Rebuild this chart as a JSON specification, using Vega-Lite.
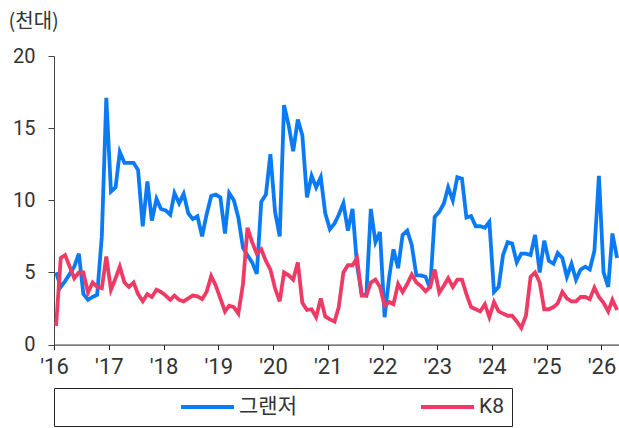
{
  "$schema": "https://vega.github.io/schema/vega-lite/v6.json",
  "width": 565,
  "height": 288.6,
  "autosize": {"type": "none"},
  "padding": {"left": 54, "top": 56, "right": 0, "bottom": 83.4},
  "background": "white",
  "config": {"view": {"stroke": null}},
  "data": {"values": [
    {"d":"2016-01-15","그랜저":5.0,"K8":1.3},{"d":"2016-02-15","그랜저":4.0,"K8":6.0},{"d":"2016-03-15","그랜저":4.4,"K8":6.2},{"d":"2016-04-15","그랜저":4.9,"K8":5.4},{"d":"2016-05-15","그랜저":5.4,"K8":4.6},{"d":"2016-06-15","그랜저":6.3,"K8":5.0},{"d":"2016-07-15","그랜저":3.5,"K8":5.0},{"d":"2016-08-15","그랜저":3.1,"K8":3.6},{"d":"2016-09-15","그랜저":3.3,"K8":4.3},{"d":"2016-10-15","그랜저":3.45,"K8":4.0},{"d":"2016-11-15","그랜저":7.5,"K8":3.9},{"d":"2016-12-15","그랜저":17.1,"K8":6.1},
    {"d":"2017-01-15","그랜저":10.6,"K8":3.8},{"d":"2017-02-15","그랜저":10.9,"K8":4.6},{"d":"2017-03-15","그랜저":13.35,"K8":5.4},{"d":"2017-04-15","그랜저":12.6,"K8":4.3},{"d":"2017-05-15","그랜저":12.6,"K8":4.0},{"d":"2017-06-15","그랜저":12.6,"K8":4.3},{"d":"2017-07-15","그랜저":12.1,"K8":3.5},{"d":"2017-08-15","그랜저":8.2,"K8":3.0},{"d":"2017-09-15","그랜저":11.3,"K8":3.5},{"d":"2017-10-15","그랜저":8.6,"K8":3.3},{"d":"2017-11-15","그랜저":10.1,"K8":3.8},{"d":"2017-12-15","그랜저":9.4,"K8":3.65},
    {"d":"2018-01-15","그랜저":9.3,"K8":3.4},{"d":"2018-02-15","그랜저":9.0,"K8":3.1},{"d":"2018-03-15","그랜저":10.5,"K8":3.4},{"d":"2018-04-15","그랜저":9.8,"K8":3.1},{"d":"2018-05-15","그랜저":10.45,"K8":3.0},{"d":"2018-06-15","그랜저":9.1,"K8":3.2},{"d":"2018-07-15","그랜저":8.7,"K8":3.4},{"d":"2018-08-15","그랜저":8.9,"K8":3.35},{"d":"2018-09-15","그랜저":7.5,"K8":3.15},{"d":"2018-10-15","그랜저":9.0,"K8":3.65},{"d":"2018-11-15","그랜저":10.3,"K8":4.75},{"d":"2018-12-15","그랜저":10.4,"K8":4.1},
    {"d":"2019-01-15","그랜저":10.2,"K8":3.2},{"d":"2019-02-15","그랜저":7.7,"K8":2.3},{"d":"2019-03-15","그랜저":10.5,"K8":2.7},{"d":"2019-04-15","그랜저":10.0,"K8":2.6},{"d":"2019-05-15","그랜저":8.8,"K8":2.15},{"d":"2019-06-15","그랜저":6.7,"K8":4.2},{"d":"2019-07-15","그랜저":6.2,"K8":8.1},{"d":"2019-08-15","그랜저":5.7,"K8":7.1},{"d":"2019-09-15","그랜저":4.9,"K8":6.3},{"d":"2019-10-15","그랜저":9.9,"K8":6.6},{"d":"2019-11-15","그랜저":10.4,"K8":5.8},{"d":"2019-12-15","그랜저":13.2,"K8":5.2},
    {"d":"2020-01-15","그랜저":9.2,"K8":3.9},{"d":"2020-02-15","그랜저":7.5,"K8":3.0},{"d":"2020-03-15","그랜저":16.6,"K8":5.0},{"d":"2020-04-15","그랜저":15.2,"K8":4.8},{"d":"2020-05-15","그랜저":13.4,"K8":4.5},{"d":"2020-06-15","그랜저":15.6,"K8":5.7},{"d":"2020-07-15","그랜저":14.5,"K8":2.9},{"d":"2020-08-15","그랜저":10.2,"K8":2.4},{"d":"2020-09-15","그랜저":11.7,"K8":2.45},{"d":"2020-10-15","그랜저":10.9,"K8":1.9},{"d":"2020-11-15","그랜저":11.6,"K8":3.2},{"d":"2020-12-15","그랜저":9.1,"K8":1.95},
    {"d":"2021-01-15","그랜저":8.0,"K8":1.75},{"d":"2021-02-15","그랜저":8.4,"K8":1.6},{"d":"2021-03-15","그랜저":9.0,"K8":2.6},{"d":"2021-04-15","그랜저":9.8,"K8":5.0},{"d":"2021-05-15","그랜저":7.9,"K8":5.5},{"d":"2021-06-15","그랜저":9.4,"K8":5.5},{"d":"2021-07-15","그랜저":5.5,"K8":6.0},{"d":"2021-08-15","그랜저":3.5,"K8":3.4},{"d":"2021-09-15","그랜저":3.4,"K8":3.4},{"d":"2021-10-15","그랜저":9.4,"K8":4.3},{"d":"2021-11-15","그랜저":7.1,"K8":4.5},{"d":"2021-12-15","그랜저":7.8,"K8":4.0},
    {"d":"2022-01-15","그랜저":1.9,"K8":2.7},{"d":"2022-02-15","그랜저":4.7,"K8":2.95},{"d":"2022-03-15","그랜저":6.6,"K8":2.8},{"d":"2022-04-15","그랜저":5.3,"K8":4.2},{"d":"2022-05-15","그랜저":7.6,"K8":3.65},{"d":"2022-06-15","그랜저":7.9,"K8":4.2},{"d":"2022-07-15","그랜저":6.9,"K8":4.85},{"d":"2022-08-15","그랜저":4.8,"K8":4.3},{"d":"2022-09-15","그랜저":4.8,"K8":4.05},{"d":"2022-10-15","그랜저":4.7,"K8":3.7},{"d":"2022-11-15","그랜저":3.9,"K8":4.0},{"d":"2022-12-15","그랜저":8.85,"K8":5.2},
    {"d":"2023-01-15","그랜저":9.2,"K8":3.6},{"d":"2023-02-15","그랜저":9.8,"K8":4.1},{"d":"2023-03-15","그랜저":10.9,"K8":4.6},{"d":"2023-04-15","그랜저":10.0,"K8":4.0},{"d":"2023-05-15","그랜저":11.6,"K8":4.5},{"d":"2023-06-15","그랜저":11.5,"K8":4.5},{"d":"2023-07-15","그랜저":8.8,"K8":3.5},{"d":"2023-08-15","그랜저":8.9,"K8":2.6},{"d":"2023-09-15","그랜저":8.2,"K8":2.45},{"d":"2023-10-15","그랜저":8.2,"K8":2.3},{"d":"2023-11-15","그랜저":8.1,"K8":2.8},{"d":"2023-12-15","그랜저":8.5,"K8":1.9},
    {"d":"2024-01-15","그랜저":3.65,"K8":2.95},{"d":"2024-02-15","그랜저":4.0,"K8":2.3},{"d":"2024-03-15","그랜저":6.2,"K8":2.15},{"d":"2024-04-15","그랜저":7.1,"K8":2.0},{"d":"2024-05-15","그랜저":7.0,"K8":2.0},{"d":"2024-06-15","그랜저":5.7,"K8":1.6},{"d":"2024-07-15","그랜저":6.3,"K8":1.15},{"d":"2024-08-15","그랜저":6.3,"K8":2.0},{"d":"2024-09-15","그랜저":6.2,"K8":4.7},{"d":"2024-10-15","그랜저":7.6,"K8":5.0},{"d":"2024-11-15","그랜저":5.0,"K8":4.3},{"d":"2024-12-15","그랜저":7.2,"K8":2.45},
    {"d":"2025-01-15","그랜저":5.8,"K8":2.45},{"d":"2025-02-15","그랜저":5.6,"K8":2.6},{"d":"2025-03-15","그랜저":6.35,"K8":2.85},{"d":"2025-04-15","그랜저":6.0,"K8":3.65},{"d":"2025-05-15","그랜저":4.7,"K8":3.2},{"d":"2025-06-15","그랜저":5.6,"K8":3.0},{"d":"2025-07-15","그랜저":4.5,"K8":3.0},{"d":"2025-08-15","그랜저":5.2,"K8":3.3},{"d":"2025-09-15","그랜저":5.4,"K8":3.3},{"d":"2025-10-15","그랜저":5.2,"K8":3.15},{"d":"2025-11-15","그랜저":6.5,"K8":3.95},{"d":"2025-12-15","그랜저":11.7,"K8":3.3},
    {"d":"2026-01-15","그랜저":5.0,"K8":2.9},{"d":"2026-02-15","그랜저":4.0,"K8":2.3},{"d":"2026-03-15","그랜저":7.7,"K8":3.1},{"d":"2026-04-15","그랜저":6.0,"K8":2.4}
  ]},
  "transform": [{"fold": ["그랜저", "K8"], "as": ["series", "value"]}],
  "mark": {"type": "line", "strokeWidth": 3.8},
  "encoding": {
    "x": {
      "field": "d", "type": "temporal",
      "scale": {"type": "utc", "domain": [{"year": 2016, "month": 1, "date": 1, "utc": true}, {"year": 2026, "month": 4, "date": 28, "utc": true}]},
      "axis": {
        "title": null, "grid": false,
        "labelExpr": "\"'\" + utcFormat(datum.value, '%y')",
        "tickCount": {"interval": "year", "step": 1},
        "domainColor": "#222", "tickColor": "#222", "tickSize": 5, "domainWidth": 1, "tickWidth": 1,
        "labelFont": "Roboto", "labelFontSize": 22, "labelColor": "#333", "labelPadding": 7,
        "labelFlush": false, "labelOverlap": false
      }
    },
    "y": {
      "field": "value", "type": "quantitative",
      "scale": {"domain": [0, 20]},
      "axis": {
        "values": [0, 5, 10, 15, 20], "grid": false,
        "title": "(천대)", "titleAngle": 0, "titleAlign": "left", "titleBaseline": "alphabetic",
        "titleX": -46, "titleY": -29, "titleFont": "Noto Sans CJK KR", "titleFontSize": 20,
        "titleFontWeight": "normal", "titleColor": "#333",
        "labelFont": "Roboto", "labelFontSize": 20, "labelColor": "#333", "labelPadding": 13,
        "tickSize": 6, "domainColor": "#444", "tickColor": "#444"
      }
    },
    "color": {
      "field": "series", "type": "nominal",
      "scale": {"domain": ["그랜저", "K8"], "range": ["#0A7BF2", "#EE3B65"]},
      "legend": {
        "orient": "none", "legendX": 0, "legendY": 332, "direction": "horizontal",
        "title": " ", "titleOrient": "left", "titleFontSize": 12, "titlePadding": 117,
        "symbolType": "stroke", "symbolSize": 2809, "symbolStrokeWidth": 4, "clipHeight": 22,
        "labelFont": "Roboto, Noto Sans CJK KR", "labelFontSize": 21, "labelColor": "#333",
        "labelOffset": 3, "labelLimit": 400, "columnPadding": 122,
        "labelExpr": "datum.label == 'K8' ? 'K8                         ' : datum.label",
        "strokeColor": "#222", "padding": 8
      }
    }
  }
}
